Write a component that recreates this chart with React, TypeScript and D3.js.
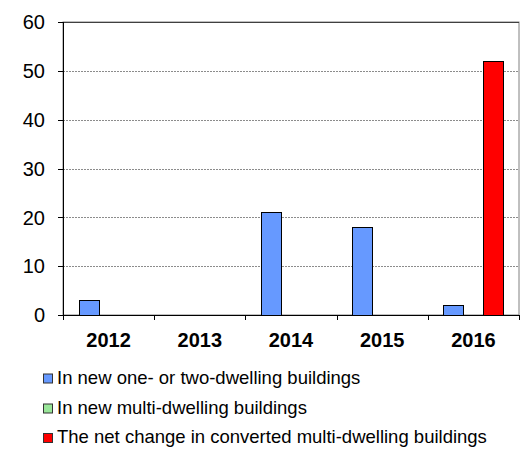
import React from "react";
import * as d3 from "d3";

const years = ["2012", "2013", "2014", "2015", "2016"];
const seriesNames = [
  "In new one- or two-dwelling buildings",
  "In new multi-dwelling buildings",
  "The net change in converted multi-dwelling buildings",
];
const oneTwoDwelling = [3, 0, 21, 18, 2];
const multiDwelling = [0, 0, 0, 0, 0];
const netConverted = [0, 0, 0, 0, 52];
const seriesColors = ["#6699FF", "#99E699", "#FF0000"];
const yTicks = [0, 10, 20, 30, 40, 50, 60];

export default function App() {
  const W = 525, H = 450;
  const left = 63, right = 519, top = 22, bottom = 315;
  const series = [oneTwoDwelling, multiDwelling, netConverted];

  const x0 = d3.scaleBand<string>().domain(years).range([left, right]).paddingInner(0).paddingOuter(0);
  const groupW = 60;
  const x1 = d3.scaleBand<number>().domain([0, 1, 2]).range([0, groupW]);
  const y = d3.scaleLinear().domain([0, 60]).range([bottom, top]);
  const font = "Arial, 'Liberation Sans', sans-serif";

  const legendBaselines = [383.5, 413.5, 443];

  return (
    <svg width={W} height={H} style={{ position: "absolute", left: 0, top: 0 }} fontFamily={font}>
      <rect x={0} y={0} width={W} height={H} fill="#fff" />
      {/* plot frame */}
      <rect x={left} y={top} width={right - left} height={bottom - top} fill="none" stroke="#808080" strokeWidth={1} />
      {/* gridlines */}
      {yTicks.filter((t) => t > 0 && t < 60).map((t) => (
        <line key={t} x1={left} x2={right} y1={Math.round(y(t)) + 0.5} y2={Math.round(y(t)) + 0.5}
          stroke="#8c8c8c" strokeWidth={1} strokeDasharray="2,1" />
      ))}
      <line x1={left} x2={right} y1={top + 0.5} y2={top + 0.5} stroke="#404040" strokeWidth={1} />
      {/* bars */}
      {years.map((yr, i) => {
        const gx = (x0(yr) as number) + (x0.bandwidth() - groupW) / 2;
        return series.map((s, j) => {
          const v = s[i];
          if (v <= 0) return null;
          return (
            <rect key={yr + j} x={Math.round(gx + (x1(j) as number)) + 0.5} y={Math.round(y(v)) + 0.5}
              width={x1.bandwidth()} height={Math.round(y(0)) - Math.round(y(v))}
              fill={seriesColors[j]} stroke="#000" strokeWidth={1} />
          );
        });
      })}
      {/* axes */}
      <line x1={left + 0.5} x2={left + 0.5} y1={top} y2={bottom + 5} stroke="#000" strokeWidth={1} />
      <line x1={left} x2={right + 1} y1={bottom + 0.5} y2={bottom + 0.5} stroke="#000" strokeWidth={1} />
      {yTicks.map((t) => (
        <g key={t}>
          <line x1={left - 5} x2={left} y1={Math.round(y(t)) + 0.5} y2={Math.round(y(t)) + 0.5} stroke="#000" />
          <text x={45} y={y(t)} dy="0.36em" textAnchor="end" fontSize={20} fill="#000">{t}</text>
        </g>
      ))}
      {[...years.map((yr) => x0(yr) as number), right].map((xv, i) => (
        <line key={i} x1={Math.round(xv) + 0.5} x2={Math.round(xv) + 0.5} y1={bottom} y2={bottom + 5} stroke="#000" />
      ))}
      {years.map((yr) => (
        <text key={yr} x={(x0(yr) as number) + x0.bandwidth() / 2} y={346.5} textAnchor="middle"
          fontSize={20} fontWeight="bold" fill="#000">{yr}</text>
      ))}
      {/* legend */}
      {seriesNames.map((name, j) => (
        <g key={name}>
          <rect x={43.5} y={legendBaselines[j] - 9.5} width={9} height={9} fill={seriesColors[j]} stroke="#333" strokeWidth={1} />
          <text x={57} y={legendBaselines[j]} fontSize={18.5} fill="#000">{name}</text>
        </g>
      ))}
    </svg>
  );
}
